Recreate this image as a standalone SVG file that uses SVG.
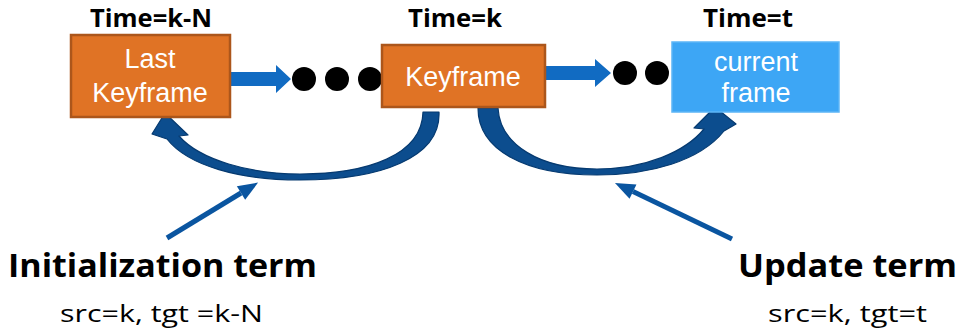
<svg xmlns="http://www.w3.org/2000/svg" width="962" height="332" viewBox="0 0 962 332">
  <style>
    .box-orange { fill: #E07325; stroke: #AC561B; stroke-width: 2.5; }
    .box-blue { fill: #3DA6F5; stroke: #5CB5F6; stroke-width: 1.5; }
    .box-label { font-family: "Liberation Sans", Arial, sans-serif; font-size: 27px; fill: #FFFFFF; text-anchor: middle; }
    .time { font-family: "Open Sans", "Liberation Sans", sans-serif; font-weight: bold; font-size: 25px; fill: #000000; }
    .term { font-family: "Open Sans", "Liberation Sans", sans-serif; font-weight: bold; font-size: 33px; fill: #000000; }
    .pair { font-family: "Open Sans", "Liberation Sans", sans-serif; font-size: 24px; fill: #000000; }
    .flow { fill: #116BC2; }
    .dot { fill: #000000; }
    .curve { fill: #0C4D8E; stroke: #063A70; stroke-width: 1.2; stroke-linejoin: round; }
    .pointer { stroke: #0A55A0; stroke-width: 5; fill: none; }
  </style>
  <defs>
    <marker id="head" markerUnits="userSpaceOnUse" markerWidth="24" markerHeight="20" refX="0" refY="0" viewBox="0 -10 24 20" orient="auto" overflow="visible">
      <path d="M0,-8 L20,0 L0,8 Z" fill="#0A55A0"/>
    </marker>
  </defs>

  <!-- time labels -->
  <text class="time" x="90" y="27" textLength="122" lengthAdjust="spacingAndGlyphs">Time=k-N</text>
  <text class="time" x="408" y="27" textLength="94" lengthAdjust="spacingAndGlyphs">Time=k</text>
  <text class="time" x="703" y="27" textLength="90" lengthAdjust="spacingAndGlyphs">Time=t</text>

  <!-- connectors -->
  <g id="connectors">
    <!-- last keyframe to keyframe -->
    <path class="flow" d="M230,72 L276,72 L276,65 L291,79 L276,93 L276,86 L230,86 Z"/>
    <circle class="dot" cx="304" cy="79" r="12"/>
    <circle class="dot" cx="337" cy="79" r="12"/>
    <circle class="dot" cx="370" cy="79" r="12"/>
    <!-- keyframe to current frame -->
    <path class="flow" d="M545,66 L595,66 L595,59 L611,73 L595,87 L595,80 L545,80 Z"/>
    <circle class="dot" cx="625" cy="73" r="12"/>
    <circle class="dot" cx="657" cy="73" r="12"/>

    <!-- curved arrow: keyframe back to last keyframe -->
    <path class="curve" d="M423,112 L439,112 C441,158 380,180 300,180 C240,180 188,166 167,139 L152,134 L165,113 L188,135 L179,136 C200,160 250,174 300,174 C368,174 422,155 423,112 Z"/>
    <!-- curved arrow: keyframe forward to current frame -->
    <path class="curve" d="M478,108 L498,108 C500,145 540,169 597,169 C645,169 685,152 704,129 L694,128 L715,107 L736,124 L724,131 C700,161 650,175 597,175 C525,175 478,150 478,108 Z"/>

    <!-- pointers to the curved arrows -->
    <line class="pointer" x1="167" y1="238" x2="241" y2="193" marker-end="url(#head)"/>
    <line class="pointer" x1="732" y1="239" x2="633" y2="191.6" marker-end="url(#head)"/>
  </g>

  <!-- nodes -->
  <g id="last-keyframe">
    <rect class="box-orange" x="71" y="35" width="159" height="82"/>
    <text class="box-label" x="150" y="68">Last</text>
    <text class="box-label" x="150" y="102">Keyframe</text>
  </g>
  <g id="keyframe">
    <rect class="box-orange" x="382" y="45" width="163" height="62"/>
    <text class="box-label" x="463" y="86">Keyframe</text>
  </g>
  <g id="current-frame">
    <rect class="box-blue" x="672" y="42" width="167" height="70"/>
    <text class="box-label" x="756" y="71">current</text>
    <text class="box-label" x="756" y="102">frame</text>
  </g>

  <!-- term captions -->
  <g id="initialization-term">
    <text class="term" x="8" y="277" textLength="309" lengthAdjust="spacingAndGlyphs">Initialization term</text>
    <text class="pair" x="60" y="322" textLength="203" lengthAdjust="spacingAndGlyphs">src=k, tgt =k-N</text>
  </g>
  <g id="update-term">
    <text class="term" x="738" y="277" textLength="219" lengthAdjust="spacingAndGlyphs">Update term</text>
    <text class="pair" x="768" y="322" textLength="159" lengthAdjust="spacingAndGlyphs">src=k, tgt=t</text>
  </g>
</svg>
